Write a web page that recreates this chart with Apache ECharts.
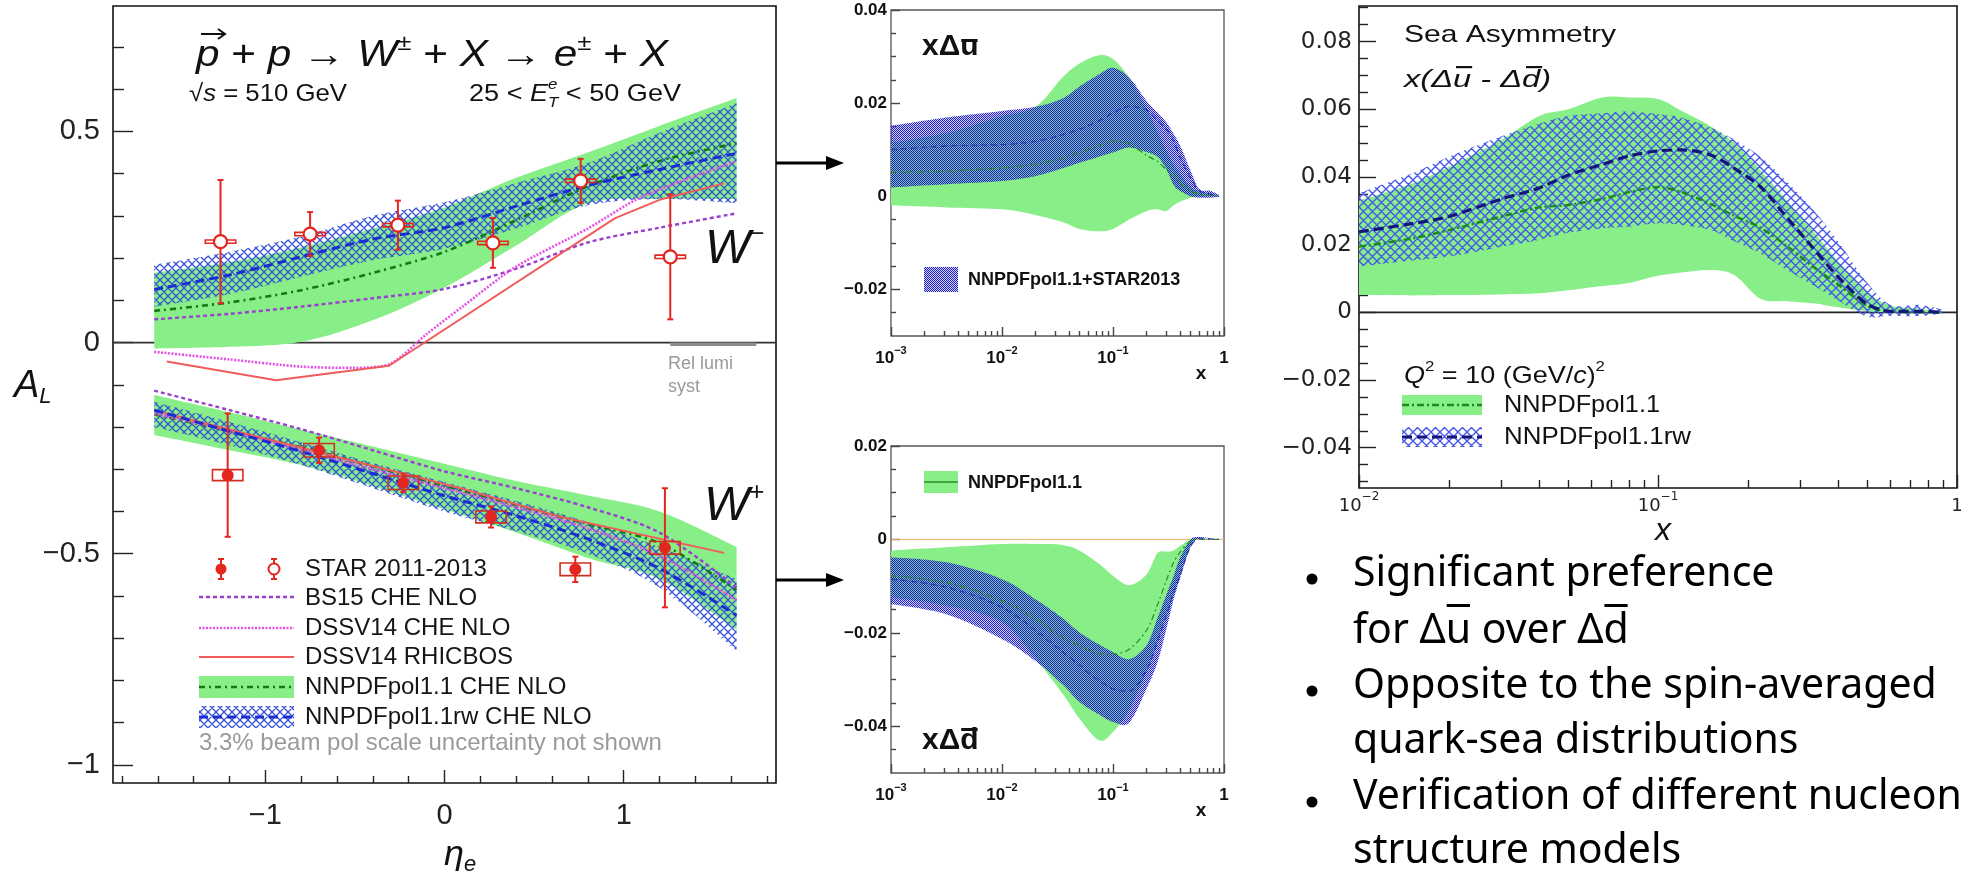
<!DOCTYPE html>
<html>
<head>
<meta charset="utf-8">
<title>STAR W asymmetries and sea asymmetry</title>
<script src="https://cdn.jsdelivr.net/npm/echarts@6.0.0/dist/echarts.min.js"></script>
<style>
html,body{margin:0;padding:0;background:#ffffff;}
#chart{width:1970px;height:871px;}
</style>
</head>
<body>
<div id="chart"></div>
<script>
// ================= DATA =================
// ---- Left panel: A_L vs eta_e (STAR 2011-2013) ----
const wmEta = [-1.25, -0.75, -0.26, 0.27, 0.76, 1.26];
const wmAL  = [0.239, 0.257, 0.278, 0.236, 0.383, 0.203];
const wmErr = [0.146, 0.052, 0.058, 0.059, 0.052, 0.148];
const wmSys = [0.004, 0.004, 0.004, 0.004, 0.004, 0.004];
const wpEta = [-1.21, -0.70, -0.23, 0.26, 0.73, 1.23];
const wpAL  = [-0.314, -0.255, -0.332, -0.413, -0.537, -0.486];
const wpErr = [0.146, 0.030, 0.022, 0.025, 0.030, 0.141];
const wpSys = [0.013, 0.016, 0.016, 0.014, 0.015, 0.015];

const etaGrid = [-1.62, -1.2, -0.8, -0.4, 0, 0.4, 0.8, 1.2, 1.63];
// W- theory
const nnMinusLo = [-0.014, -0.010, 0.002, 0.053, 0.130, 0.230, 0.330, 0.340, 0.340];
const nnMinusHi = [0.165, 0.190, 0.225, 0.270, 0.320, 0.390, 0.450, 0.513, 0.579];
const nnMinusC  = [0.075, 0.095, 0.124, 0.165, 0.215, 0.290, 0.370, 0.430, 0.472];
const rwMinusLo = [0.085, 0.115, 0.156, 0.195, 0.222, 0.270, 0.325, 0.340, 0.330];
const rwMinusHi = [0.184, 0.215, 0.251, 0.300, 0.332, 0.378, 0.425, 0.497, 0.567];
const rwMinusC  = [0.126, 0.160, 0.203, 0.245, 0.272, 0.323, 0.372, 0.410, 0.448];
const bsMinus   = [0.055, 0.068, 0.085, 0.105, 0.127, 0.175, 0.237, 0.272, 0.306];
const dssvMinusEta = [-1.62, -1.2, -0.8, -0.5, -0.3, -0.1, 0.1, 0.4, 0.8, 1.1, 1.62];
const dssvMinus    = [-0.022, -0.040, -0.057, -0.060, -0.050, 0.020, 0.085, 0.180, 0.270, 0.345, 0.428];
const rhicMinusEta = [-1.55, -0.94, -0.31, 0.95, 1.2, 1.56];
const rhicMinus    = [-0.045, -0.089, -0.055, 0.294, 0.338, 0.377];
// W+ theory
const nnPlusLo = [-0.219, -0.255, -0.290, -0.340, -0.395, -0.450, -0.510, -0.560, -0.680];
const nnPlusHi = [-0.124, -0.165, -0.206, -0.246, -0.287, -0.328, -0.362, -0.400, -0.484];
const nnPlusC  = [-0.170, -0.210, -0.248, -0.293, -0.340, -0.385, -0.430, -0.475, -0.586];
const rwPlusLo = [-0.200, -0.243, -0.290, -0.345, -0.400, -0.447, -0.500, -0.580, -0.730];
const rwPlusHi = [-0.140, -0.188, -0.236, -0.285, -0.330, -0.375, -0.425, -0.484, -0.560];
const rwPlusC  = [-0.160, -0.210, -0.258, -0.310, -0.363, -0.410, -0.465, -0.535, -0.646];
const bsPlus   = [-0.114, -0.160, -0.205, -0.255, -0.305, -0.345, -0.390, -0.450, -0.580];
const dssvPlus = [-0.168, -0.210, -0.255, -0.300, -0.345, -0.390, -0.440, -0.505, -0.610];
const rhicPlusEta = [-1.59, 0.09, 0.65, 1.56];
const rhicPlus    = [-0.164, -0.345, -0.413, -0.498];
const relLumiEta  = [1.26, 1.74];
const relLumiSyst = -0.008;

// ---- Middle panels: x*Delta ubar, x*Delta dbar ----
const pdfX = [0.001, 0.00316, 0.01, 0.02, 0.035, 0.05, 0.075, 0.1, 0.14, 0.2, 0.25, 0.3, 0.35, 0.4, 0.5, 0.6, 0.75, 0.9];
const ubarNnLo = [-0.0020, -0.0024, -0.0028, -0.0040, -0.0055, -0.0070, -0.0075, -0.0070, -0.0050, -0.0032, -0.0028, -0.0032, -0.0020, -0.0012, -0.0003, 0, 0, 0];
const ubarNnHi = [0.0115, 0.0136, 0.0172, 0.0192, 0.0255, 0.0285, 0.0303, 0.0295, 0.0255, 0.0190, 0.0140, 0.0100, 0.0070, 0.0050, 0.0020, 0.0010, 0.0005, 0];
const ubarNnC  = [0.0051, 0.0054, 0.0061, 0.0069, 0.0082, 0.0094, 0.0108, 0.0119, 0.0113, 0.0088, 0.0075, 0.0058, 0.0045, 0.0030, 0.0012, 0.0005, 0.0002, 0];
const ubarRwLo = [0.0019, 0.0026, 0.0033, 0.0043, 0.0060, 0.0072, 0.0085, 0.0094, 0.0105, 0.0095, 0.0085, 0.0060, 0.0025, 0.0012, 0, -0.0003, -0.0003, -0.0001];
const ubarRwHi = [0.0151, 0.0169, 0.0183, 0.0192, 0.0210, 0.0236, 0.0262, 0.0276, 0.0255, 0.0205, 0.0180, 0.0160, 0.0135, 0.0110, 0.0055, 0.0015, 0.0012, 0.0003];
const ubarRwC  = [0.0100, 0.0108, 0.0111, 0.0118, 0.0132, 0.0144, 0.0162, 0.0179, 0.0193, 0.0186, 0.0165, 0.0145, 0.0120, 0.0085, 0.0040, 0.0012, 0.0005, 0];
const dbarNnLo = [-0.0124, -0.0142, -0.0177, -0.0255, -0.0330, -0.0384, -0.0430, -0.0412, -0.0365, -0.0284, -0.0220, -0.0165, -0.0120, -0.0078, -0.0015, 0.0003, 0.0002, 0];
const dbarNnHi = [-0.0024, -0.0017, -0.0010, -0.0010, -0.0012, -0.0024, -0.0052, -0.0078, -0.0098, -0.0075, -0.0030, -0.0026, -0.0024, -0.0014, 0, 0.0003, 0.0002, 0];
const dbarNnC  = [-0.0078, -0.0092, -0.0131, -0.0170, -0.0210, -0.0227, -0.0245, -0.0246, -0.0235, -0.0195, -0.0142, -0.0090, -0.0050, -0.0028, -0.0003, 0, 0, 0];
const dbarRwLo = [-0.0138, -0.0160, -0.0213, -0.0260, -0.0310, -0.0348, -0.0375, -0.0391, -0.0392, -0.0320, -0.0265, -0.0195, -0.0130, -0.0085, -0.0015, 0.0002, 0.0001, 0];
const dbarRwHi = [-0.0038, -0.0049, -0.0085, -0.0128, -0.0168, -0.0199, -0.0225, -0.0241, -0.0256, -0.0227, -0.0170, -0.0120, -0.0080, -0.0040, 0, 0.0005, 0.0002, 0];
const dbarRwC  = [-0.0085, -0.0102, -0.0145, -0.0195, -0.0240, -0.0270, -0.0302, -0.0320, -0.0325, -0.0280, -0.0220, -0.0165, -0.0115, -0.0078, -0.0015, 0.0003, 0.0001, 0];

// ---- Right panel: sea asymmetry x(Delta ubar - Delta dbar) ----
const seaX = [0.01, 0.015, 0.02, 0.03, 0.04, 0.05, 0.065, 0.08, 0.1, 0.12, 0.15, 0.18, 0.22, 0.27, 0.33, 0.4, 0.5, 0.6, 0.75, 0.9];
const seaNnLo = [0.0051, 0.0050, 0.0051, 0.0053, 0.0056, 0.0065, 0.0078, 0.0087, 0.0108, 0.0118, 0.0125, 0.0110, 0.0040, 0.0033, 0.0027, 0.0015, 0.0003, 0, 0, 0];
const seaNnHi = [0.0330, 0.0380, 0.0430, 0.0510, 0.0580, 0.0600, 0.0635, 0.0635, 0.0630, 0.0595, 0.0550, 0.0500, 0.0420, 0.0330, 0.0240, 0.0150, 0.0060, 0.0020, 0.0010, 0];
const seaNnC  = [0.0194, 0.0218, 0.0243, 0.0283, 0.0310, 0.0317, 0.0335, 0.0355, 0.0370, 0.0355, 0.0320, 0.0285, 0.0250, 0.0196, 0.0135, 0.0082, 0.0020, 0.0002, 0, 0];
const seaRwLo = [0.0135, 0.0153, 0.0165, 0.0194, 0.0214, 0.0235, 0.0248, 0.0253, 0.0263, 0.0258, 0.0243, 0.0210, 0.0174, 0.0125, 0.0080, 0.0035, -0.0012, -0.0010, -0.0011, -0.0003];
const seaRwHi = [0.0352, 0.0410, 0.0460, 0.0520, 0.0557, 0.0580, 0.0588, 0.0593, 0.0585, 0.0575, 0.0545, 0.0510, 0.0460, 0.0386, 0.0304, 0.0210, 0.0088, 0.0022, 0.0022, 0.0008];
const seaRwC  = [0.0238, 0.0262, 0.0283, 0.0335, 0.0367, 0.0405, 0.0437, 0.0462, 0.0477, 0.0480, 0.0465, 0.0425, 0.0371, 0.0280, 0.0190, 0.0105, 0.0025, 0.0003, 0.0003, 0];

// ---- Tick values ----
const leftXMajor = [-1, 0, 1];
const leftXMinor = [-1.8, -1.6, -1.4, -1.2, -0.8, -0.6, -0.4, -0.2, 0.2, 0.4, 0.6, 0.8, 1.2, 1.4, 1.6, 1.8];
const leftYMajor = [-1, -0.5, 0, 0.5];
const leftYMinor = [-0.9, -0.8, -0.7, -0.6, -0.4, -0.3, -0.2, -0.1, 0.1, 0.2, 0.3, 0.4, 0.6, 0.7];
const midXMajor = [0.001, 0.01, 0.1, 1];
const midXMinor = [0.002, 0.003, 0.004, 0.005, 0.006, 0.007, 0.008, 0.009, 0.02, 0.03, 0.04, 0.05, 0.06, 0.07, 0.08, 0.09, 0.2, 0.3, 0.4, 0.5, 0.6, 0.7, 0.8, 0.9];
const uYMajor = [-0.02, 0, 0.02, 0.04];
const uYMinor = [-0.025, -0.015, -0.01, -0.005, 0.005, 0.01, 0.015, 0.025, 0.03, 0.035];
const dYMajor = [-0.04, -0.02, 0, 0.02];
const dYMinor = [-0.045, -0.035, -0.03, -0.025, -0.015, -0.01, -0.005, 0.005, 0.01, 0.015];
const seaXMajor = [0.01, 0.1, 1];
const seaXMinor = [0.02, 0.03, 0.04, 0.05, 0.06, 0.07, 0.08, 0.09, 0.2, 0.3, 0.4, 0.5, 0.6, 0.7, 0.8, 0.9];
const seaYMajor = [-0.04, -0.02, 0, 0.02, 0.04, 0.06, 0.08];
const seaYMinor = [-0.05, -0.045, -0.035, -0.03, -0.025, -0.015, -0.01, -0.005, 0.005, 0.01, 0.015, 0.025, 0.03, 0.035, 0.045, 0.05, 0.055, 0.065, 0.07, 0.075, 0.085, 0.09];

// ================= STYLE =================
const FONT = '"Liberation Sans", Arial, Helvetica, sans-serif';
const itf = s => 'italic ' + s + 'px ' + FONT;
const nf = s => s + 'px ' + FONT;
const bf = s => 'bold ' + s + 'px ' + FONT;
const RED = '#e32620';
const GREEN = '#88ef88';
const DKGREEN = '#137a13';
const BLUE = '#1c2ed2';
const NAVY = '#15157c';
const PURPLE = '#9a3fd0';
const MAGENTA = '#e650e6';
const SALMON = '#f05c5c';

const mctx = document.createElement('canvas').getContext('2d');
function tw(font, s) { mctx.font = font; return mctx.measureText(s).width; }

function mkCanvas(w, h) { const c = document.createElement('canvas'); c.width = w; c.height = h; return c; }
function crossHatch(color, s, lw) {
  const c = mkCanvas(s, s), g = c.getContext('2d');
  g.strokeStyle = color; g.lineWidth = lw; g.beginPath();
  for (const k of [-s, 0, s]) { g.moveTo(k, 0); g.lineTo(k + s, s); g.moveTo(k + s, 0); g.lineTo(k, s); }
  g.stroke(); return c;
}
function checker() {
  const c = mkCanvas(2, 2), g = c.getContext('2d');
  g.fillStyle = '#1e1ed0'; g.fillRect(0, 0, 1, 1); g.fillRect(1, 1, 1, 1);
  g.fillStyle = 'rgba(80,80,220,0.25)'; g.fillRect(1, 0, 1, 1); g.fillRect(0, 1, 1, 1);
  return c;
}
const HATCH_L = { image: crossHatch('#3552d6', 8, 1.3), repeat: 'repeat' };
const HATCH_R = { image: crossHatch('#4658e6', 9, 1.4), repeat: 'repeat' };
const DOTS = { image: checker(), repeat: 'repeat' };

// ================= HELPERS =================
function smoothPath(pts, cmd) {
  let d = cmd + pts[0][0].toFixed(2) + ',' + pts[0][1].toFixed(2);
  for (let i = 0; i < pts.length - 1; i++) {
    const p0 = pts[i - 1] || pts[i], p1 = pts[i], p2 = pts[i + 1], p3 = pts[i + 2] || p2;
    const t = 1 / 6;
    const c1 = [p1[0] + (p2[0] - p0[0]) * t, p1[1] + (p2[1] - p0[1]) * t];
    const c2 = [p2[0] - (p3[0] - p1[0]) * t, p2[1] - (p3[1] - p1[1]) * t];
    d += ' C' + c1[0].toFixed(2) + ',' + c1[1].toFixed(2) + ' ' + c2[0].toFixed(2) + ',' + c2[1].toFixed(2) + ' ' + p2[0].toFixed(2) + ',' + p2[1].toFixed(2);
  }
  return d;
}
function band(ax, xs, lo, hi, fill, z) {
  return {
    type: 'custom', xAxisIndex: ax, yAxisIndex: ax, coordinateSystem: 'cartesian2d',
    data: [[xs[0], lo[0]]], clip: true, silent: true, z: z, animation: false,
    renderItem: function (params, api) {
      const top = xs.map((x, i) => api.coord([x, hi[i]]));
      const bot = xs.map((x, i) => api.coord([x, lo[i]])).reverse();
      const d = smoothPath(top, 'M') + ' ' + smoothPath(bot, 'L') + ' Z';
      return { type: 'path', shape: { pathData: d }, style: { fill: fill, stroke: null } };
    }
  };
}
function curve(ax, xs, ys, color, width, dash, smooth, z) {
  return {
    type: 'line', xAxisIndex: ax, yAxisIndex: ax, data: xs.map((x, i) => [x, ys[i]]),
    symbol: 'none', showSymbol: false, smooth: smooth, silent: true, z: z, animation: false,
    lineStyle: { color: color, width: width, type: dash }, emphasis: { disabled: true }
  };
}
function errBars(xs, ys, errs, syss, boxColor, z) {
  const BOX_HW = 0.085;
  return {
    type: 'custom', xAxisIndex: 0, yAxisIndex: 0, coordinateSystem: 'cartesian2d',
    data: xs.map((x, i) => [x, ys[i], errs[i], syss[i]]), encode: { x: 0, y: 1 },
    silent: true, z: z, animation: false,
    renderItem: function (params, api) {
      const x = api.value(0), y = api.value(1), e = api.value(2), s = api.value(3);
      const t = api.coord([x, y + e]), b = api.coord([x, y - e]);
      const r1 = api.coord([x - BOX_HW, y + s]), r2 = api.coord([x + BOX_HW, y - s]);
      const st = { stroke: RED, lineWidth: 2 };
      return {
        type: 'group', children: [
          { type: 'rect', shape: { x: r1[0], y: r1[1], width: r2[0] - r1[0], height: r2[1] - r1[1] }, style: { fill: 'none', stroke: boxColor, lineWidth: 1.6 } },
          { type: 'line', shape: { x1: t[0], y1: t[1], x2: b[0], y2: b[1] }, style: st },
          { type: 'line', shape: { x1: t[0] - 3, y1: t[1], x2: t[0] + 3, y2: t[1] }, style: st },
          { type: 'line', shape: { x1: b[0] - 3, y1: b[1], x2: b[0] + 3, y2: b[1] }, style: st }
        ]
      };
    }
  };
}
function txt(x, y, s, font, opt) {
  opt = opt || {};
  return {
    type: 'text', x: x, y: y, scaleX: opt.sx || 1, silent: true, z: 60,
    style: { text: s, font: font, fill: opt.color || '#111', textAlign: opt.align || 'left', align: opt.align || 'left', textVerticalAlign: 'middle', verticalAlign: 'middle' }
  };
}
function seq(x0, y, parts, targetW, color) {
  let total = 0;
  parts.forEach(p => { if (!p.noAdv) total += tw(p.f, p.s); });
  const sx = targetW ? targetW / total : 1;
  const out = []; let cx = x0;
  parts.forEach(p => {
    out.push(txt(cx, y + (p.dy || 0), p.s, p.f, { sx: sx, color: color }));
    if (!p.noAdv) cx += tw(p.f, p.s) * sx;
  });
  out.sx = sx;
  return out;
}
const fmtSigned = v => (v === 0 ? '0' : (v < 0 ? '\u2212' : '') + String(Math.abs(v)));
const fmt2 = v => (Math.abs(v) < 1e-9 ? '0' : (v < 0 ? '\u2212' : '') + Math.abs(v).toFixed(2));
const fmtLog = v => { const e = Math.round(Math.log10(v)); return e === 0 ? '{b|1}' : '{b|10}{s|\u2212' + (-e) + '}'; };

function xAx(grid, type, min, max, vals, len, color, label) {
  const a = {
    type: type, gridIndex: grid, min: min, max: max, position: 'bottom',
    axisLine: { show: false, onZero: false }, splitLine: { show: false }, axisPointer: { show: false },
    axisTick: { show: true, inside: true, length: len, customValues: vals, lineStyle: { color: color, width: 1.4 } },
    axisLabel: label ? Object.assign({ show: true, customValues: vals, showMinLabel: true, showMaxLabel: true }, label) : { show: false }
  };
  if (type === 'log') a.logBase = 10;
  return a;
}
function yAx(grid, min, max, vals, len, color, label) {
  return {
    type: 'value', gridIndex: grid, min: min, max: max, position: 'left',
    axisLine: { show: false, onZero: false }, splitLine: { show: false }, axisPointer: { show: false },
    axisTick: { show: true, inside: true, length: len, customValues: vals, lineStyle: { color: color, width: 1.4 } },
    axisLabel: label ? Object.assign({ show: true, customValues: vals, showMinLabel: true, showMaxLabel: true }, label) : { show: false }
  };
}

// ================= AXES =================
const leftLab = { formatter: fmtSigned, color: '#222', fontSize: 29, fontFamily: 'Liberation Sans' };
const midLogLab = {
  formatter: fmtLog, margin: 9,
  rich: {
    b: { fontSize: 17, fontWeight: 'bold', fontFamily: 'Liberation Sans', color: '#111', lineHeight: 22, verticalAlign: 'bottom' },
    s: { fontSize: 11, fontWeight: 'bold', fontFamily: 'Liberation Sans', color: '#111', lineHeight: 22, verticalAlign: 'top' }
  }
};
const midYLab = { formatter: fmt2, margin: 4, color: '#111', fontSize: 17, fontWeight: 'bold', fontFamily: 'Liberation Sans' };
const seaLogLab = {
  formatter: fmtLog, margin: 3,
  rich: {
    b: { fontSize: 18, fontFamily: 'DejaVu Sans', color: '#222', lineHeight: 24, verticalAlign: 'bottom' },
    s: { fontSize: 12, fontFamily: 'DejaVu Sans', color: '#222', lineHeight: 24, verticalAlign: 'top' }
  }
};
const seaYLab = { formatter: fmt2, margin: 7, color: '#222', fontSize: 23, fontFamily: 'DejaVu Sans' };

const xAxes = [
  xAx(0, 'value', -1.85, 1.85, leftXMajor, 13, '#222', Object.assign({ margin: 18 }, leftLab)),
  xAx(0, 'value', -1.85, 1.85, leftXMinor, 7, '#222', null),
  xAx(1, 'log', 0.001, 1, midXMajor, 9, '#444', midLogLab),
  xAx(1, 'log', 0.001, 1, midXMinor, 5, '#444', null),
  xAx(2, 'log', 0.001, 1, midXMajor, 9, '#444', midLogLab),
  xAx(2, 'log', 0.001, 1, midXMinor, 5, '#444', null),
  xAx(3, 'log', 0.01, 1, seaXMajor, 13, '#222', seaLogLab),
  xAx(3, 'log', 0.01, 1, seaXMinor, 8, '#222', null)
];
const yAxes = [
  yAx(0, -1.043, 0.797, leftYMajor, 20, '#222', Object.assign({ margin: 13 }, leftLab)),
  yAx(0, -1.043, 0.797, leftYMinor, 11, '#222', null),
  yAx(1, -0.03, 0.04, uYMajor, 9, '#444', midYLab),
  yAx(1, -0.03, 0.04, uYMinor, 5, '#444', null),
  yAx(2, -0.05, 0.02, dYMajor, 9, '#444', midYLab),
  yAx(2, -0.05, 0.02, dYMinor, 5, '#444', null),
  yAx(3, -0.0519, 0.0905, seaYMajor, 17, '#222', seaYLab),
  yAx(3, -0.0519, 0.0905, seaYMinor, 9, '#222', null)
];

// ================= SERIES =================
// axis index pairs: 0 = left, 2 = xDelta ubar, 4 = xDelta dbar, 6 = sea asymmetry
const series = [
  curve(0, [-1.85, 1.85], [0, 0], '#333', 1.8, 'solid', false, 1),
  band(0, etaGrid, nnMinusLo, nnMinusHi, GREEN, 2),
  band(0, etaGrid, nnPlusLo, nnPlusHi, GREEN, 2),
  band(0, etaGrid, rwMinusLo, rwMinusHi, HATCH_L, 3),
  band(0, etaGrid, rwPlusLo, rwPlusHi, HATCH_L, 3),
  curve(0, etaGrid, nnMinusC, DKGREEN, 2.6, [6, 4, 2, 4], 0.3, 4),
  curve(0, etaGrid, nnPlusC, DKGREEN, 2.6, [6, 4, 2, 4], 0.3, 4),
  curve(0, etaGrid, bsMinus, PURPLE, 2.4, [4, 3], 0.3, 4),
  curve(0, etaGrid, bsPlus, PURPLE, 2.4, [4, 3], 0.3, 4),
  curve(0, dssvMinusEta, dssvMinus, MAGENTA, 2.6, [2, 1.5], 0.25, 4),
  curve(0, etaGrid, dssvPlus, MAGENTA, 2.6, [2, 1.5], 0.3, 4),
  curve(0, rhicMinusEta, rhicMinus, SALMON, 2, 'solid', false, 4),
  curve(0, rhicPlusEta, rhicPlus, SALMON, 2, 'solid', false, 4),
  curve(0, etaGrid, rwMinusC, BLUE, 3, [9, 5], 0.3, 5),
  curve(0, etaGrid, rwPlusC, BLUE, 3, [9, 5], 0.3, 5),
  {
    type: 'custom', xAxisIndex: 0, yAxisIndex: 0, coordinateSystem: 'cartesian2d',
    data: [[relLumiEta[0], relLumiSyst]], silent: true, z: 4, animation: false,
    renderItem: function (params, api) {
      const a = api.coord([relLumiEta[0], 0]), b = api.coord([relLumiEta[1], relLumiSyst]);
      return { type: 'rect', shape: { x: a[0], y: a[1], width: b[0] - a[0], height: b[1] - a[1] }, style: { fill: '#8c8c8c' } };
    }
  },
  errBars(wmEta, wmAL, wmErr, wmSys, RED, 6),
  errBars(wpEta, wpAL, wpErr, wpSys, '#d0301e', 6),
  {
    type: 'scatter', xAxisIndex: 0, yAxisIndex: 0, data: wmEta.map((x, i) => [x, wmAL[i]]),
    symbol: 'circle', symbolSize: 13, silent: true, z: 7, animation: false,
    itemStyle: { color: '#ffffff', borderColor: RED, borderWidth: 2.2, opacity: 1 }
  },
  {
    type: 'scatter', xAxisIndex: 0, yAxisIndex: 0, data: wpEta.map((x, i) => [x, wpAL[i]]),
    symbol: 'circle', symbolSize: 12, silent: true, z: 7, animation: false,
    itemStyle: { color: RED, opacity: 1 }
  },
  // x Delta ubar
  band(2, pdfX, ubarNnLo, ubarNnHi, GREEN, 2),
  band(2, pdfX, ubarRwLo, ubarRwHi, DOTS, 3),
  curve(2, pdfX, ubarNnC, '#2a8a2a', 1.2, [6, 3, 2, 3], 0.3, 4),
  curve(2, pdfX, ubarRwC, '#2a3cb0', 1.3, [6, 4], 0.3, 4),
  // x Delta dbar
  curve(4, [0.001, 1], [0, 0], '#e6b46a', 1, 'solid', false, 1),
  band(4, pdfX, dbarNnLo, dbarNnHi, GREEN, 2),
  band(4, pdfX, dbarRwLo, dbarRwHi, DOTS, 3),
  curve(4, pdfX, dbarNnC, '#2a8a2a', 1.2, [6, 3, 2, 3], 0.3, 4),
  curve(4, pdfX, dbarRwC, '#2a3cb0', 1.3, [6, 4], 0.3, 4),
  // sea asymmetry
  curve(6, [0.01, 1], [0, 0], '#222', 1.6, 'solid', false, 1),
  band(6, seaX, seaNnLo, seaNnHi, GREEN, 2),
  band(6, seaX, seaRwLo, seaRwHi, HATCH_R, 3),
  curve(6, seaX, seaNnC, '#1a8a1a', 2.4, [7, 3, 2, 3], 0.3, 4),
  curve(6, seaX, seaRwC, NAVY, 3.2, [10, 5], 0.3, 5)
];

// ================= ANNOTATIONS =================
const G = [];
function add(arr) { arr.forEach(e => G.push(e)); }
// Left panel title
const title = seq(196, 56, [
  { s: 'p', f: itf(36) }, { s: ' + ', f: nf(36) }, { s: 'p', f: itf(36) }, { s: ' \u2192 ', f: nf(36) },
  { s: 'W', f: itf(36) }, { s: '\u00b1', f: nf(22), dy: -12 }, { s: ' + ', f: nf(36) }, { s: 'X', f: itf(36) },
  { s: ' \u2192 ', f: nf(36) }, { s: 'e', f: itf(36) }, { s: '\u00b1', f: nf(22), dy: -12 }, { s: ' + ', f: nf(36) }, { s: 'X', f: itf(36) }
], 472);
add(title);
G.push({ type: 'line', silent: true, z: 60, shape: { x1: 201, y1: 34, x2: 224, y2: 34 }, style: { stroke: '#111', lineWidth: 2 } });
G.push({ type: 'polyline', silent: true, z: 60, shape: { points: [[218, 29], [225, 34], [218, 39]] }, style: { stroke: '#111', lineWidth: 2, fill: null } });
add(seq(189, 94, [{ s: '\u221a', f: nf(24) }, { s: 's', f: itf(24) }, { s: ' = 510 GeV', f: nf(24) }], 158));
add(seq(469, 94, [
  { s: '25 < ', f: nf(24) }, { s: 'E', f: itf(24) }, { s: 'e', f: itf(15), dy: -9, noAdv: true },
  { s: 'T', f: itf(15), dy: 9 }, { s: ' < 50 GeV', f: nf(24) }
], 212));
add(seq(705, 250, [{ s: 'W', f: itf(48) }, { s: '\u2212', f: nf(24), dy: -16 }]));
add(seq(704, 507, [{ s: 'W', f: itf(48) }, { s: '+', f: nf(26), dy: -14 }]));
add(seq(14, 386, [{ s: 'A', f: itf(38) }, { s: 'L', f: itf(22), dy: 11 }]));
add(seq(444, 855, [{ s: '\u03b7', f: itf(36) }, { s: 'e', f: itf(22), dy: 10 }]));
G.push(txt(668, 364, 'Rel lumi', nf(18), { color: '#999' }));
G.push(txt(668, 387, 'syst', nf(18), { color: '#999' }));

// Left legend
[[221, true], [274, false]].forEach(([cx, filled]) => {
  G.push({ type: 'line', silent: true, z: 60, shape: { x1: cx, y1: 559, x2: cx, y2: 579 }, style: { stroke: RED, lineWidth: 2 } });
  G.push({ type: 'line', silent: true, z: 60, shape: { x1: cx - 3, y1: 559, x2: cx + 3, y2: 559 }, style: { stroke: RED, lineWidth: 2 } });
  G.push({ type: 'line', silent: true, z: 60, shape: { x1: cx - 3, y1: 579, x2: cx + 3, y2: 579 }, style: { stroke: RED, lineWidth: 2 } });
  G.push({ type: 'circle', silent: true, z: 61, shape: { cx: cx, cy: 569, r: 5.5 }, style: filled ? { fill: RED } : { fill: '#fff', stroke: RED, lineWidth: 2 } });
});
G.push({ type: 'line', silent: true, z: 60, shape: { x1: 199, y1: 597, x2: 294, y2: 597 }, style: { stroke: PURPLE, lineWidth: 2.4, lineDash: [4, 3] } });
G.push({ type: 'line', silent: true, z: 60, shape: { x1: 199, y1: 628, x2: 294, y2: 628 }, style: { stroke: MAGENTA, lineWidth: 2.6, lineDash: [2, 1.5] } });
G.push({ type: 'line', silent: true, z: 60, shape: { x1: 199, y1: 657, x2: 294, y2: 657 }, style: { stroke: SALMON, lineWidth: 2 } });
G.push({ type: 'rect', silent: true, z: 59, shape: { x: 199, y: 676, width: 95, height: 22 }, style: { fill: GREEN } });
G.push({ type: 'line', silent: true, z: 60, shape: { x1: 199, y1: 687, x2: 294, y2: 687 }, style: { stroke: DKGREEN, lineWidth: 2.6, lineDash: [6, 4, 2, 4] } });
G.push({ type: 'rect', silent: true, z: 59, shape: { x: 199, y: 706, width: 95, height: 22 }, style: { fill: HATCH_L } });
G.push({ type: 'line', silent: true, z: 60, shape: { x1: 199, y1: 717, x2: 294, y2: 717 }, style: { stroke: BLUE, lineWidth: 3, lineDash: [9, 5] } });
[['STAR 2011-2013', 569], ['BS15 CHE NLO', 598], ['DSSV14 CHE NLO', 628], ['DSSV14 RHICBOS', 657], ['NNPDFpol1.1 CHE NLO', 687], ['NNPDFpol1.1rw CHE NLO', 717]]
  .forEach(([s, y]) => G.push(txt(305, y, s, nf(24), { color: '#151515' })));
G.push(txt(199, 743, '3.3% beam pol scale uncertainty not shown', nf(24), { color: '#9a9a9a' }));

// Arrows
[163, 580].forEach(y => {
  G.push({ type: 'line', silent: true, z: 60, shape: { x1: 776, y1: y, x2: 830, y2: y }, style: { stroke: '#000', lineWidth: 3 } });
  G.push({ type: 'polygon', silent: true, z: 60, shape: { points: [[826, y - 7], [844, y], [826, y + 7]] }, style: { fill: '#000' } });
});

// Middle panels labels
const MB = bf(30);
G.push(txt(922, 47, 'x\u0394u', MB));
G.push({ type: 'rect', silent: true, z: 60, shape: { x: 922 + tw(MB, 'x\u0394') + 1, y: 39, width: tw(MB, 'u') - 2, height: 3 }, style: { fill: '#111' } });
G.push(txt(922, 741, 'x\u0394d', MB));
G.push({ type: 'rect', silent: true, z: 60, shape: { x: 922 + tw(MB, 'x\u0394') + 1, y: 728, width: tw(MB, 'd') - 2, height: 3 }, style: { fill: '#111' } });
G.push({ type: 'rect', silent: true, z: 59, shape: { x: 924, y: 267, width: 34, height: 25 }, style: { fill: DOTS } });
G.push(txt(968, 280, 'NNPDFpol1.1+STAR2013', bf(18)));
G.push({ type: 'rect', silent: true, z: 59, shape: { x: 924, y: 471, width: 34, height: 22 }, style: { fill: GREEN } });
G.push({ type: 'line', silent: true, z: 60, shape: { x1: 924, y1: 482, x2: 958, y2: 482 }, style: { stroke: '#2a8a2a', lineWidth: 1.3 } });
G.push(txt(968, 483, 'NNPDFpol1.1', bf(18)));
G.push(txt(1201, 374, 'x', bf(19), { align: 'center' }));
G.push(txt(1201, 811, 'x', bf(19), { align: 'center' }));

// Right panel texts
const RF = nf(24), RI = itf(24);
G.push(txt(1404, 35, 'Sea Asymmetry', RF, { sx: 212 / tw(RF, 'Sea Asymmetry') }));
const xs2 = 147 / tw(RI, 'x(\u0394u - \u0394d)');
G.push(txt(1404, 80, 'x(\u0394u - \u0394d)', RI, { sx: xs2 }));
G.push({ type: 'rect', silent: true, z: 60, shape: { x: 1404 + xs2 * tw(RI, 'x(\u0394') + 3, y: 66, width: xs2 * tw(RI, 'u') - 2, height: 2.2 }, style: { fill: '#111' } });
G.push({ type: 'rect', silent: true, z: 60, shape: { x: 1404 + xs2 * tw(RI, 'x(\u0394u - \u0394') + 4, y: 66, width: xs2 * tw(RI, 'd') - 2, height: 2.2 }, style: { fill: '#111' } });
add(seq(1404, 376, [
  { s: 'Q', f: RI }, { s: '2', f: nf(15), dy: -9 }, { s: ' = 10 (GeV/', f: RF }, { s: 'c', f: RI }, { s: ')', f: RF }, { s: '2', f: nf(15), dy: -9 }
], 201));
G.push({ type: 'rect', silent: true, z: 59, shape: { x: 1402, y: 395, width: 80, height: 20 }, style: { fill: GREEN } });
G.push({ type: 'line', silent: true, z: 60, shape: { x1: 1402, y1: 405, x2: 1482, y2: 405 }, style: { stroke: '#1a8a1a', lineWidth: 2.4, lineDash: [7, 3, 2, 3] } });
G.push({ type: 'rect', silent: true, z: 59, shape: { x: 1402, y: 427, width: 80, height: 20 }, style: { fill: HATCH_R } });
G.push({ type: 'line', silent: true, z: 60, shape: { x1: 1402, y1: 437, x2: 1482, y2: 437 }, style: { stroke: NAVY, lineWidth: 3, lineDash: [10, 5] } });
G.push(txt(1504, 405, 'NNPDFpol1.1', RF, { sx: 156 / tw(RF, 'NNPDFpol1.1') }));
G.push(txt(1504, 437, 'NNPDFpol1.1rw', RF, { sx: 187 / tw(RF, 'NNPDFpol1.1rw') }));
G.push(txt(1663, 531, 'x', itf(32), { align: 'center' }));

// Bullets
const BF = '41px "Noto Sans", "Open Sans", sans-serif';
[[574, 'Significant preference', true], [631, 'for \u0394u over \u0394d', false], [686, 'Opposite to the spin-averaged', true],
 [741, 'quark-sea distributions', false], [797, 'Verification of different nucleon', true], [851, 'structure models', false]]
  .forEach(([y, s, bullet]) => {
    G.push(txt(1353, y, s, BF, { color: '#000' }));
    if (bullet) G.push({ type: 'circle', silent: true, z: 60, shape: { cx: 1312, cy: y + 5, r: 5.5 }, style: { fill: '#000' } });
  });
G.push({ type: 'rect', silent: true, z: 60, shape: { x: 1353 + tw(BF, 'for \u0394') + 1, y: 604, width: tw(BF, 'u') - 2, height: 3 }, style: { fill: '#000' } });
G.push({ type: 'rect', silent: true, z: 60, shape: { x: 1353 + tw(BF, 'for \u0394u over \u0394') + 1, y: 604, width: tw(BF, 'd') - 2, height: 3 }, style: { fill: '#000' } });

// ================= CHART =================
const chart = echarts.init(document.getElementById('chart'), null, { renderer: 'canvas', width: 1970, height: 871 });
chart.setOption({
  backgroundColor: '#ffffff',
  animation: false,
  grid: [
    { left: 113, top: 6, width: 663, height: 777, show: true, borderColor: '#111', borderWidth: 1.6, backgroundColor: 'rgba(0,0,0,0)', containLabel: false, outerBoundsMode: 'none' },
    { left: 891, top: 10, width: 333, height: 326, show: true, borderColor: '#555', borderWidth: 1.3, backgroundColor: 'rgba(0,0,0,0)', containLabel: false, outerBoundsMode: 'none' },
    { left: 891, top: 446, width: 333, height: 327, show: true, borderColor: '#555', borderWidth: 1.3, backgroundColor: 'rgba(0,0,0,0)', containLabel: false, outerBoundsMode: 'none' },
    { left: 1359, top: 6, width: 598, height: 482, show: true, borderColor: '#111', borderWidth: 1.6, backgroundColor: 'rgba(0,0,0,0)', containLabel: false, outerBoundsMode: 'none' }
  ],
  xAxis: xAxes,
  yAxis: yAxes,
  series: series,
  graphic: { elements: G }
});
</script>
</body>
</html>
